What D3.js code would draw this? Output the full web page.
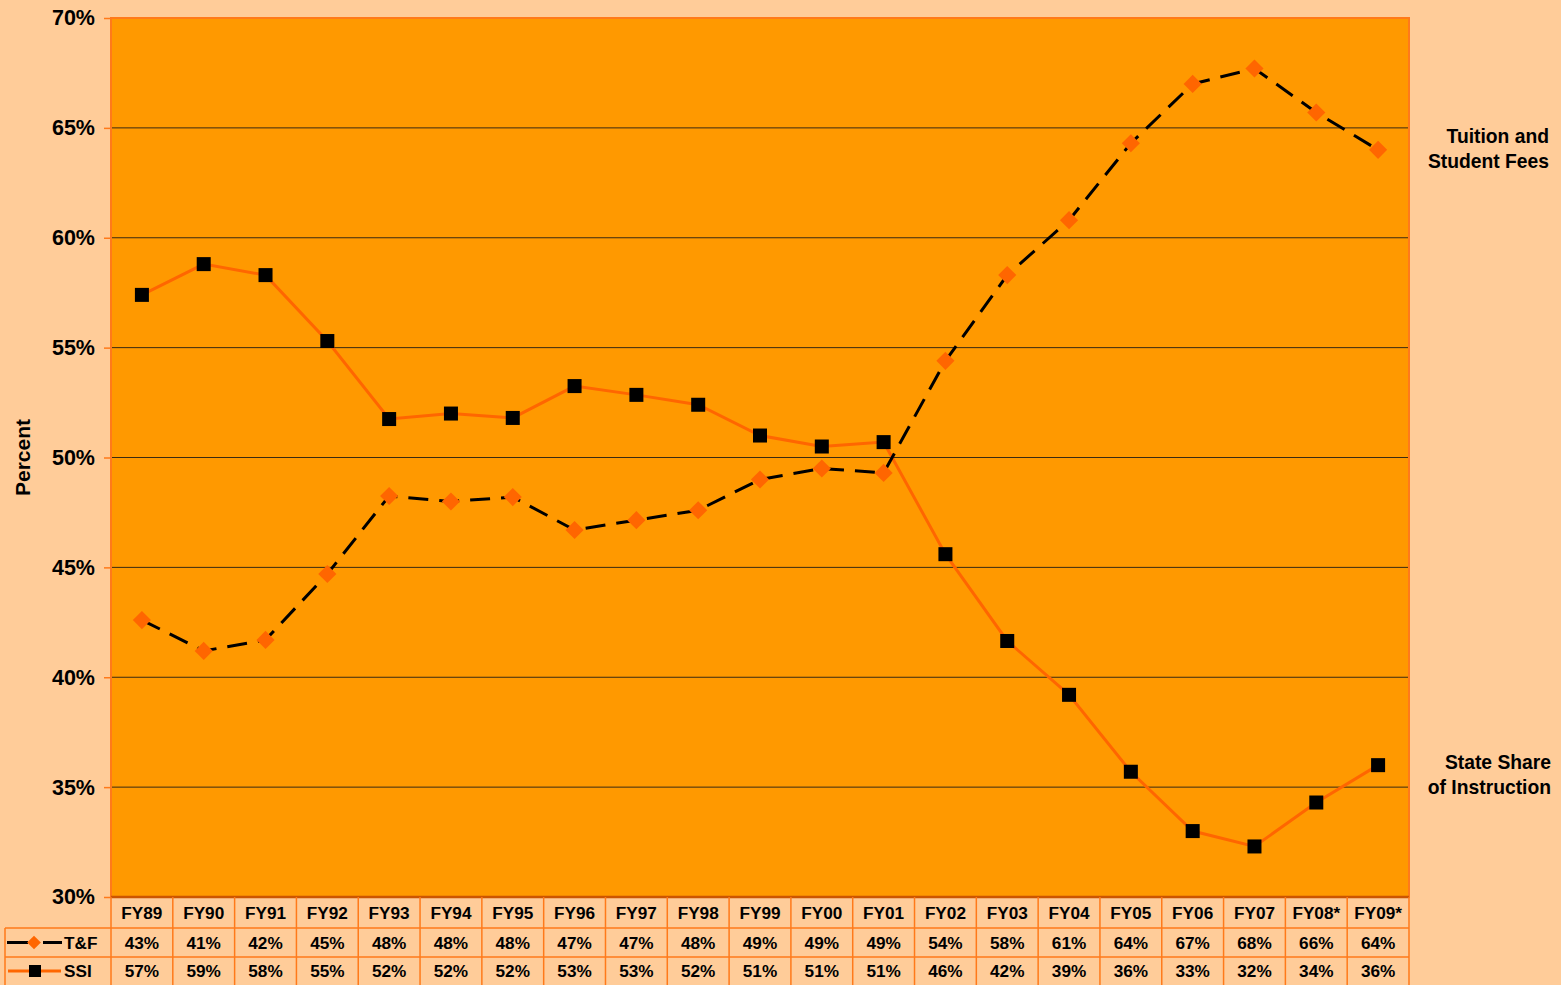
<!DOCTYPE html>
<html>
<head>
<meta charset="utf-8">
<script src="https://cdn.jsdelivr.net/npm/d3@7"></script>
<style>
  body { margin: 0; background: #FFCC99; }
  svg { display: block; font-family: "Liberation Sans", Arial, sans-serif; font-weight: bold; }
</style>
</head>
<body>
<div id="chart"></div>
<script>
const years = ["FY89", "FY90", "FY91", "FY92", "FY93", "FY94", "FY95", "FY96", "FY97", "FY98", "FY99",
	"FY00", "FY01", "FY02", "FY03", "FY04", "FY05", "FY06", "FY07", "FY08*", "FY09*"];

// tuition and student fees share (%)
const tf_values = [42.6, 41.2, 41.7, 44.7, 48.25, 48.0, 48.2, 46.7, 47.15, 47.6, 49.0,
	49.5, 49.3, 54.4, 58.3, 60.8, 64.3, 67.0, 67.7, 65.7, 64.0];
// state share of instruction (%)
const ssi_values = [57.4, 58.8, 58.3, 55.3, 51.75, 52.0, 51.8, 53.25, 52.85, 52.4, 51.0,
	50.5, 50.7, 45.6, 41.65, 39.2, 35.7, 33.0, 32.3, 34.3, 36.0];

const tf_labels = ["43%", "41%", "42%", "45%", "48%", "48%", "48%", "47%", "47%", "48%", "49%",
	"49%", "49%", "54%", "58%", "61%", "64%", "67%", "68%", "66%", "64%"];
const ssi_labels = ["57%", "59%", "58%", "55%", "52%", "52%", "52%", "53%", "53%", "52%", "51%",
	"51%", "51%", "46%", "42%", "39%", "36%", "33%", "32%", "34%", "36%"];

const y_ticks = [30, 35, 40, 45, 50, 55, 60, 65, 70];

const width = 1561;
const height = 985;
const margin = { top: 18, right: 152, bottom: 88, left: 111 };
const plot_bottom = height - margin.bottom; // 897
const plot_right = width - margin.right; // 1409

const x = d3.scaleBand()
	.domain(years)
	.range([margin.left, plot_right])
	.padding(0);

const y = d3.scaleLinear()
	.domain([30, 70])
	.range([plot_bottom, margin.top]);

const svg = d3.select("#chart")
	.append("svg")
	.attr("width", width)
	.attr("height", height);

// page background
svg.append("rect")
	.attr("width", width)
	.attr("height", height)
	.attr("fill", "#FFCC99");

// plot area
svg.append("rect")
	.attr("x", margin.left)
	.attr("y", margin.top)
	.attr("width", plot_right - margin.left)
	.attr("height", plot_bottom - margin.top)
	.attr("fill", "#FF9900")
	.attr("stroke", "#FF7A1A")
	.attr("stroke-width", 2);

// gridlines
svg.append("g")
	.selectAll("line")
	.data(y_ticks.slice(1, -1))
	.join("line")
	.attr("x1", margin.left + 1)
	.attr("x2", plot_right - 1)
	.attr("y1", (d) => y(d))
	.attr("y2", (d) => y(d))
	.attr("stroke", "#3a2a10")
	.attr("stroke-width", 1);

// y axis
const y_axis = svg.append("g")
	.attr("transform", `translate(${margin.left}, 0)`)
	.call(d3.axisLeft(y).tickValues(y_ticks).tickFormat((d) => d + "%").tickSize(7).tickPadding(9));
y_axis.select(".domain").remove();
y_axis.selectAll(".tick line").attr("stroke", "#FF7A1A").attr("stroke-width", 1.5);
y_axis.selectAll(".tick text")
	.attr("fill", "#000")
	.attr("font-size", "21.5px")
	.attr("font-weight", "bold")
	.attr("font-family", "Liberation Sans, Arial, sans-serif");

// y label
svg.append("text")
	.attr("transform", `translate(30, ${(margin.top + plot_bottom) / 2}) rotate(-90)`)
	.attr("text-anchor", "middle")
	.attr("font-size", "21px")
	.text("Percent");

// bottom axis line
svg.append("line")
	.attr("x1", margin.left)
	.attr("x2", plot_right)
	.attr("y1", plot_bottom)
	.attr("y2", plot_bottom)
	.attr("stroke", "#CC5500")
	.attr("stroke-width", 2.5);

const cx = (i) => x(years[i]) + x.bandwidth() / 2;

// SSI line
svg.append("path")
	.datum(ssi_values)
	.attr("fill", "none")
	.attr("stroke", "#FF6600")
	.attr("stroke-width", 3)
	.attr("d", d3.line().x((d, i) => cx(i)).y((d) => y(d)));

// T&F line
svg.append("path")
	.datum(tf_values)
	.attr("fill", "none")
	.attr("stroke", "#000")
	.attr("stroke-width", 3)
	.attr("stroke-dasharray", "20,11")
	.attr("d", d3.line().x((d, i) => cx(i)).y((d) => y(d)));

// SSI markers
svg.append("g")
	.selectAll("rect")
	.data(ssi_values)
	.join("rect")
	.attr("x", (d, i) => cx(i) - 7)
	.attr("y", (d) => y(d) - 7)
	.attr("width", 14)
	.attr("height", 14)
	.attr("fill", "#000");

// T&F markers
const diamond = d3.symbol().type(d3.symbolDiamond2).size(210);
svg.append("g")
	.selectAll("path")
	.data(tf_values)
	.join("path")
	.attr("transform", (d, i) => `translate(${cx(i)}, ${y(d)})`)
	.attr("d", diamond)
	.attr("fill", "#FF6600");

// right side labels
const side_labels = [
	{ lines: ["Tuition and", "Student Fees"], y: 143, x: 1549 },
	{ lines: ["State Share", "of Instruction"], y: 769, x: 1551 },
];
side_labels.forEach((s) => {
	s.lines.forEach((t, j) => {
		svg.append("text")
			.attr("x", s.x)
			.attr("y", s.y + j * 25)
			.attr("text-anchor", "end")
			.attr("font-size", "19.3px")
			.text(t);
	});
});

// data table
const row_y = [897, 928, 957, 985];
const table_color = "#FF7A1A";
const table = svg.append("g");

// horizontal lines
table.append("line")
	.attr("x1", 5).attr("x2", plot_right)
	.attr("y1", row_y[1]).attr("y2", row_y[1])
	.attr("stroke", table_color).attr("stroke-width", 1.5);
table.append("line")
	.attr("x1", 5).attr("x2", plot_right)
	.attr("y1", row_y[2]).attr("y2", row_y[2])
	.attr("stroke", table_color).attr("stroke-width", 1.5);

// vertical lines
const col_edges = years.map((d) => x(d)).concat([plot_right]);
table.selectAll(".vline")
	.data(col_edges)
	.join("line")
	.attr("class", "vline")
	.attr("x1", (d) => d).attr("x2", (d) => d)
	.attr("y1", row_y[0]).attr("y2", row_y[3])
	.attr("stroke", table_color).attr("stroke-width", 1.5);
table.append("line")
	.attr("x1", 5).attr("x2", 5)
	.attr("y1", row_y[1]).attr("y2", row_y[3])
	.attr("stroke", table_color).attr("stroke-width", 1.5);

const rows = [years, tf_labels, ssi_labels];
rows.forEach((r, k) => {
	table.append("g")
		.selectAll("text")
		.data(r)
		.join("text")
		.attr("x", (d, i) => cx(i))
		.attr("y", (row_y[k] + row_y[k + 1]) / 2 + 6)
		.attr("text-anchor", "middle")
		.attr("font-size", "17.2px")
		.text((d) => d);
});

// table legend keys
const key_tf = table.append("g").attr("transform", `translate(0, ${(row_y[1] + row_y[2]) / 2})`);
key_tf.append("line").attr("x1", 7).attr("x2", 28).attr("y1", 0).attr("y2", 0)
	.attr("stroke", "#000").attr("stroke-width", 3);
key_tf.append("line").attr("x1", 43).attr("x2", 62).attr("y1", 0).attr("y2", 0)
	.attr("stroke", "#000").attr("stroke-width", 3);
key_tf.append("path").attr("transform", "translate(34, 0)")
	.attr("d", d3.symbol().type(d3.symbolDiamond2).size(120)).attr("fill", "#FF6600");
key_tf.append("text").attr("x", 64).attr("y", 6).attr("font-size", "17.2px").text("T&F");

const key_ssi = table.append("g").attr("transform", `translate(0, ${(row_y[2] + row_y[3]) / 2})`);
key_ssi.append("line").attr("x1", 8).attr("x2", 61).attr("y1", 0).attr("y2", 0)
	.attr("stroke", "#FF6600").attr("stroke-width", 3);
key_ssi.append("rect").attr("x", 29).attr("y", -6).attr("width", 12).attr("height", 12).attr("fill", "#000");
key_ssi.append("text").attr("x", 64).attr("y", 6).attr("font-size", "17.2px").text("SSI");
</script>
</body>
</html>
